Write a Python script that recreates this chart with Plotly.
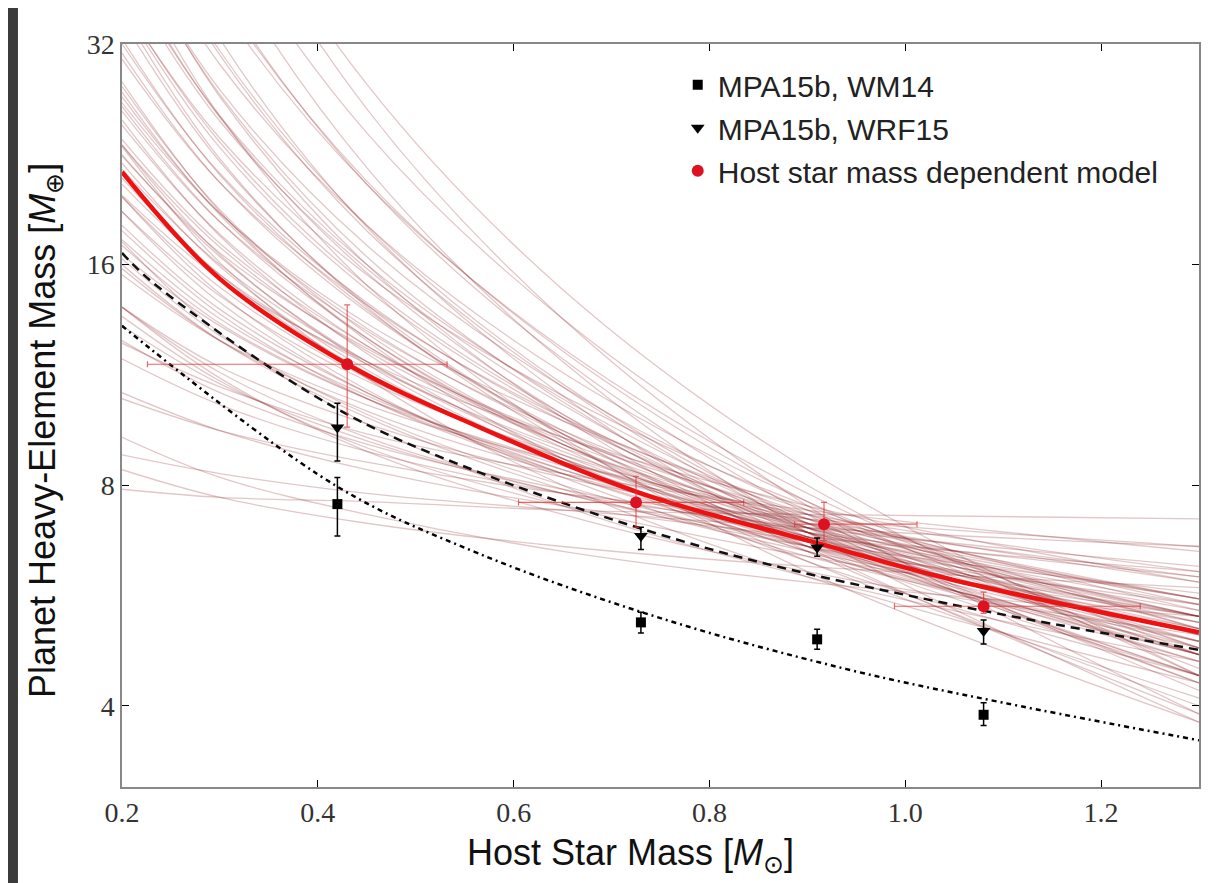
import plotly.graph_objects as go

# --- data ---------------------------------------------------------------

# MPA15b, WM14 (black squares)
wm14_mass = [0.42, 0.73, 0.91, 1.08]
wm14_z = [7.54, 5.20, 4.93, 3.89]
wm14_err_hi = [0.66, 0.17, 0.16, 0.15]
wm14_err_lo = [0.72, 0.17, 0.15, 0.13]

# MPA15b, WRF15 (black down triangles)
wrf15_mass = [0.42, 0.73, 0.91, 1.08]
wrf15_z = [9.59, 6.82, 6.58, 5.06]
wrf15_err_hi = [0.76, 0.19, 0.20, 0.18]
wrf15_err_lo = [0.96, 0.28, 0.18, 0.20]

# host star mass dependent model (red circles)
model_mass = [0.43, 0.725, 0.917, 1.08]
model_z = [11.7, 7.58, 7.08, 5.47]
model_zerr_hi = [2.4, 0.65, 0.50, 0.25]
model_zerr_lo = [2.1, 0.57, 0.36, 0.12]
model_merr_hi = [0.102, 0.11, 0.095, 0.16]
model_merr_lo = [0.204, 0.12, 0.03, 0.091]

# best fit (thick red), dashed and dash-dot black curves
fit_mass = [0.2, 0.3, 0.43, 0.565, 0.73, 0.905, 1.045, 1.3]
fit_z = [21.4, 15.3, 11.7, 9.6, 7.8, 6.7, 5.96, 5.04]

dashed_mass = [0.2, 0.232, 0.415, 0.565, 0.8, 1.045, 1.3]
dashed_z = [16.6, 15.1, 10.25, 8.33, 6.55, 5.51, 4.77]

dashdot_mass = [0.2, 0.419, 0.565, 0.75, 0.94, 1.1, 1.3]
dashdot_z = [13.2, 7.98, 6.45, 5.27, 4.49, 4.04, 3.59]

# posterior sample curves (thin dark red), values at sample_mass
sample_mass = [0.2, 0.3, 0.45, 0.65, 0.9, 1.3]
samples = [
    [7.9, 7.7, 7.6, 7.4, 7.3, 7.2],
    [8.8, 8.3, 7.8, 7.4, 7.0, 6.6],
    [10.5, 9.5, 8.6, 7.8, 7.2, 6.6],
    [10.7, 9.5, 8.4, 7.5, 6.8, 6.1],
    [12.5, 10.9, 9.4, 8.3, 7.4, 6.5],
    [12.6, 10.7, 9.1, 7.9, 6.9, 6.0],
    [14.0, 11.6, 9.7, 8.2, 7.1, 6.0],
    [14.0, 11.4, 9.3, 7.8, 6.6, 5.5],
    [15.5, 12.6, 10.3, 8.6, 7.3, 6.1],
    [15.8, 12.6, 10.1, 8.3, 6.9, 5.6],
    [16.0, 12.6, 9.9, 7.9, 6.5, 5.2],
    [17.3, 13.5, 10.6, 8.5, 7.0, 5.6],
    [19.9, 15.3, 11.8, 9.3, 7.5, 5.9],
    [17.8, 13.7, 10.5, 8.3, 6.7, 5.3],
    [19.8, 14.9, 11.2, 8.7, 6.9, 5.3],
    [20.6, 15.5, 11.7, 9.0, 7.2, 5.6],
    [19.8, 14.6, 10.8, 8.2, 6.4, 4.9],
    [21.0, 15.5, 11.4, 8.7, 6.8, 5.2],
    [23.7, 17.1, 12.4, 9.2, 7.1, 5.3],
    [22.0, 15.9, 11.5, 8.6, 6.6, 4.9],
    [26.6, 18.8, 13.3, 9.8, 7.4, 5.4],
    [24.8, 17.6, 12.4, 9.1, 6.9, 5.0],
    [25.2, 17.5, 12.1, 8.7, 6.5, 4.7],
    [27.1, 18.8, 13.1, 9.4, 7.0, 5.0],
    [30.5, 20.7, 14.1, 9.9, 7.3, 5.1],
    [28.0, 19.0, 12.9, 9.1, 6.7, 4.7],
    [31.1, 20.7, 13.8, 9.5, 6.9, 4.8],
    [28.4, 18.9, 12.6, 8.7, 6.3, 4.4],
    [36.4, 23.8, 15.5, 10.6, 7.5, 5.1],
    [36.6, 23.5, 15.0, 10.0, 7.0, 4.7],
    [34.5, 22.1, 14.1, 9.4, 6.6, 4.4],
    [40.6, 25.5, 16.0, 10.5, 7.2, 4.7],
    [41.3, 25.4, 15.6, 10.0, 6.8, 4.4],
    [49.8, 30.0, 18.1, 11.4, 7.6, 4.8],
    [45.9, 27.1, 16.0, 9.9, 6.5, 4.0],
    [54.1, 31.3, 18.1, 11.0, 7.1, 4.3],
    [64.1, 36.3, 20.6, 12.3, 7.8, 4.7],
    [58.4, 32.5, 18.0, 10.6, 6.6, 3.9],
    [69.7, 38.0, 20.6, 11.9, 7.3, 4.2],
    [88.7, 46.4, 24.2, 13.5, 8.0, 4.4],
    [82.5, 42.3, 21.7, 11.8, 6.9, 3.8],
    [116.8, 57.5, 28.2, 14.8, 8.4, 4.4],
    [112.4, 54.2, 26.1, 13.5, 7.5, 3.9],
    [14.0, 11.2, 8.9, 7.3, 6.1, 5.0],
    [23.2, 16.1, 11.2, 8.0, 6.0, 4.3],
    [9.3, 8.2, 7.3, 6.5, 5.9, 5.3],
    [8.4, 7.7, 7.1, 6.6, 6.2, 5.8],
    [17.2, 12.9, 9.7, 7.5, 6.0, 4.6],
    [43.1, 25.5, 15.0, 9.3, 6.1, 3.8],
    [35.5, 22.3, 14.0, 9.2, 6.3, 4.1],
    [18.1, 13.9, 10.7, 8.4, 6.8, 5.4],
    [21.6, 16.0, 11.8, 8.9, 7.0, 5.3],
    [18.9, 14.2, 10.7, 8.3, 6.6, 5.1],
    [25.9, 18.3, 13.0, 9.5, 7.2, 5.3],
    [26.3, 18.3, 12.7, 9.1, 6.8, 4.9],
    [32.0, 21.3, 14.2, 9.8, 7.1, 4.9],
    [32.5, 21.2, 13.9, 9.4, 6.7, 4.6],
    [23.3, 16.9, 12.2, 9.1, 7.0, 5.2],
    [17.0, 13.3, 10.5, 8.4, 6.9, 5.5],
    [22.5, 16.6, 12.3, 9.3, 7.3, 5.5],
    [23.3, 16.5, 11.7, 8.6, 6.5, 4.8],
    [40.0, 25.1, 15.8, 10.3, 7.1, 4.7],
    [45.2, 27.3, 16.4, 10.4, 6.9, 4.4],
    [45.0, 27.7, 17.0, 10.9, 7.4, 4.8],
    [13.2, 11.0, 9.2, 7.8, 6.7, 5.7],
    [11.9, 10.3, 8.9, 7.8, 7.0, 6.2],
    [13.6, 11.1, 9.0, 7.5, 6.4, 5.3],
    [27.5, 18.7, 12.7, 9.0, 6.6, 4.7],
    [16.5, 13.2, 10.5, 8.6, 7.2, 5.9],
    [36.1, 23.1, 14.8, 9.9, 6.9, 4.6],
    [67.3, 37.4, 20.8, 12.2, 7.6, 4.5],
    [53.3, 30.9, 17.8, 10.9, 7.0, 4.3],
    [22.6, 16.4, 11.8, 8.8, 6.8, 5.1],
    [18.9, 14.5, 11.1, 8.8, 7.1, 5.6],
    [16.3, 12.8, 10.0, 8.0, 6.6, 5.3],
]

x_ticks = [0.2, 0.4, 0.6, 0.8, 1.0, 1.2]
x_ticktext = ["0.2", "0.4", "0.6", "0.8", "1.0", "1.2"]
y_ticks = [4, 8, 16, 32]
y_ticktext = ["4", "8", "16", "32"]

x_title = "Host Star Mass [<i>M</i><sub>⊙</sub>]"
y_title = "Planet Heavy-Element Mass [<i>M</i><sub>⊕</sub>]"

# --- figure ---------------------------------------------------------------

fig = go.Figure()

for s in samples:
    fig.add_trace(go.Scatter(
        x=sample_mass, y=s, mode="lines", line_shape="spline",
        line=dict(color="rgba(135,20,25,0.24)", width=1.3),
        showlegend=False, hoverinfo="skip"))

fig.add_trace(go.Scatter(
    x=dashdot_mass, y=dashdot_z, mode="lines", line_shape="spline",
    line=dict(color="black", width=2.5, dash="5px,4px,2px,4px"),
    showlegend=False))
fig.add_trace(go.Scatter(
    x=dashed_mass, y=dashed_z, mode="lines", line_shape="spline",
    line=dict(color="#111111", width=2.5, dash="9px,6px"),
    showlegend=False))
fig.add_trace(go.Scatter(
    x=fit_mass, y=fit_z, mode="lines", line_shape="spline",
    line=dict(color="#ee1111", width=4.5),
    showlegend=False))

fig.add_trace(go.Scatter(
    x=wm14_mass, y=wm14_z, mode="markers", name="MPA15b, WM14",
    legendgroup="a",
    marker=dict(symbol="square", size=10, color="black"),
    error_y=dict(type="data", symmetric=False, array=wm14_err_hi,
                 arrayminus=wm14_err_lo, color="black", thickness=1.5, width=3)))
fig.add_trace(go.Scatter(
    x=wrf15_mass, y=wrf15_z, mode="markers", name="MPA15b, WRF15",
    legendgroup="b",
    marker=dict(symbol="triangle-down", size=12, color="black"),
    error_y=dict(type="data", symmetric=False, array=wrf15_err_hi,
                 arrayminus=wrf15_err_lo, color="black", thickness=1.5, width=3)))
fig.add_trace(go.Scatter(
    x=model_mass, y=model_z, mode="markers", name="Host star mass dependent model",
    legendgroup="c",
    marker=dict(symbol="circle", size=12, color="#dd1122"),
    error_y=dict(type="data", symmetric=False, array=model_zerr_hi,
                 arrayminus=model_zerr_lo, color="rgba(225,50,50,0.75)",
                 thickness=1.2, width=3),
    error_x=dict(type="data", symmetric=False, array=model_merr_hi,
                 arrayminus=model_merr_lo, color="rgba(225,50,50,0.75)",
                 thickness=1.2, width=3)))

# dark strip of the screenshot frame along the left edge
fig.add_shape(type="rect", xref="paper", yref="paper",
              x0=-0.1059, x1=-0.0966, y0=-0.5, y1=1.5,
              fillcolor="#3b3b3b", line_width=0, layer="below")

# axis titles (the x title sits a little left of the axis centre)
fig.add_annotation(text=x_title, xref="paper", yref="paper",
                   x=0.4726, y=-0.0915, xanchor="center", yanchor="middle",
                   showarrow=False, font=dict(size=36, color="#111111"))
fig.add_annotation(text=y_title, xref="paper", yref="paper",
                   x=-0.0715, y=0.4805, xanchor="center", yanchor="middle",
                   textangle=-90, showarrow=False,
                   font=dict(size=36, color="#111111"))

fig.update_layout(
    width=1216, height=875,
    margin=dict(l=114, r=25, t=36, b=96),
    paper_bgcolor="white",
    plot_bgcolor="white",
    font=dict(family="Liberation Sans", color="#222222"),
    legend=dict(x=0.516, y=0.98, xanchor="left", yanchor="top",
                bgcolor="rgba(255,255,255,0)", font=dict(size=30),
                traceorder="grouped", tracegroupgap=1),
    showlegend=True,
)
fig.update_xaxes(
    range=[0.2, 1.3], tickvals=x_ticks, ticktext=x_ticktext,
    ticks="inside", ticklen=7, tickcolor="black", mirror="allticks",
    showline=True, linecolor="#888888", linewidth=1.5, showgrid=False, zeroline=False,
    tickfont=dict(family="Liberation Serif", size=28, color="#333333"),
)
fig.update_yaxes(
    type="log", range=[0.4914, 1.5051], tickvals=y_ticks, ticktext=y_ticktext,
    ticks="inside", ticklen=7, tickcolor="black", mirror="allticks",
    showline=True, linecolor="#888888", linewidth=1.5, showgrid=False, zeroline=False,
    tickfont=dict(family="Liberation Serif", size=28, color="#333333"),
)

fig.write_html("out.html")
